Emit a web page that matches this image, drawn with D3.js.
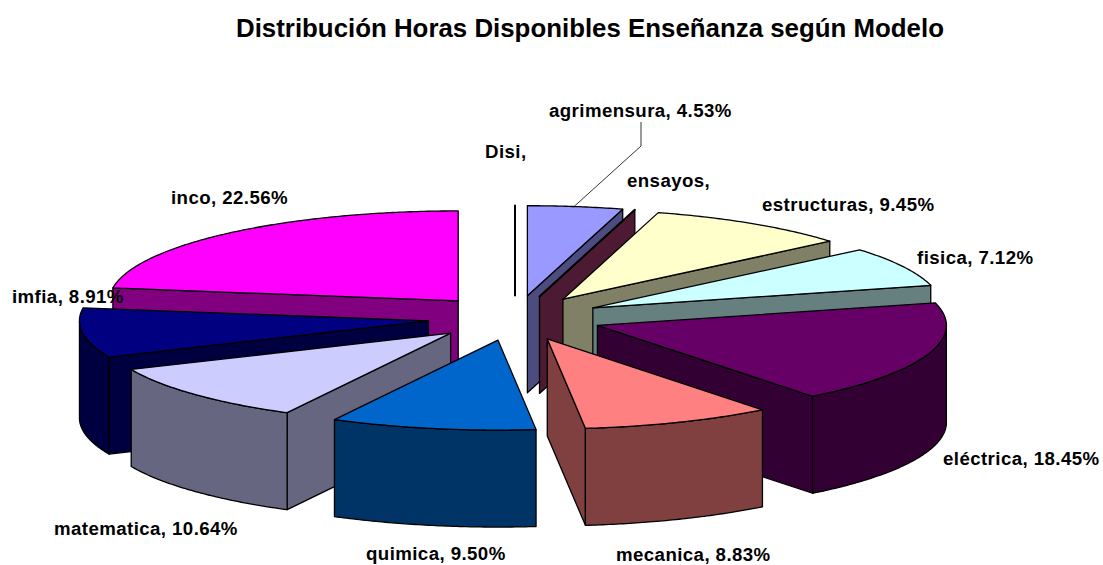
<!DOCTYPE html>
<html>
<head>
<meta charset="utf-8">
<script src="https://cdn.jsdelivr.net/npm/d3@7/dist/d3.min.js"></script>
<style>
html,body{margin:0;padding:0;background:#fff;}
text{font-family:"Liberation Sans",Arial,sans-serif;font-weight:bold;fill:#000;}
</style>
</head>
<body>
<svg id="chart" width="1103" height="565"></svg>
<script>
const titleText = "Distribución Horas Disponibles Enseñanza según Modelo";
const categories = ["agrimensura","ensayos","estructuras","fisica","eléctrica","mecanica","quimica","matematica","imfia","inco","Disi"];
const values = [4.53,0,9.45,7.12,18.45,8.83,9.50,10.64,8.91,22.56,0];
const valueLabels = ["4.53%","","9.45%","7.12%","18.45%","8.83%","9.50%","10.64%","8.91%","22.56%",""];
const topColors = ["#9999ff","#993366","#ffffcc","#ccffff","#660066","#ff8080","#0066cc","#ccccff","#000080","#ff00ff","#000000"];
const wallColors = ["#4c4c80","#4d1a33","#808066","#668080","#330033","#804040","#003366","#666680","#000040","#800080","#000000"];
const labelX = [549,627,762,917,943,616,366,54,12,171,485];
const labelY = [117,187,211,264,465,560.5,560,535,303,204,158];

const W = 1103, H = 565;
const cx = 515, cy = 318, rx = 349, ry = 90, depth = 97, explode = 0.25, viewTurn = 0.008;
const x = d3.scaleLinear().domain([-1,1]).range([cx-rx,cx+rx]);
const y = d3.scaleLinear().domain([-1,1]).range([cy-ry,cy+ry]);
const line = d3.line().x(d=>x(d[0])).y(d=>y(d[1])+(d[2]||0));
const svg = d3.select("#chart");

const pie = d3.pie().sort(null).value(d=>d.value);
const arcs = pie(categories.map((c,i)=>({c,i,value:values[i]})));

const slices = arcs.map(a=>{
  const mid=(a.startAngle+a.endAngle)/2;
  return {...a, i:a.data.i, mid, ox:Math.sin(mid)*explode, oy:-Math.cos(mid)*explode};
});
const turned=t=>(t<1e-6||t>2*Math.PI-1e-6)?t:t-viewTurn;
const rim=(s,t)=>[s.ox+Math.sin(turned(t)),s.oy-Math.cos(turned(t))];
const apex=s=>[s.ox,s.oy];
const samples=(a,b)=>{
  const n=Math.max(1,Math.ceil((b-a)/0.01));
  return d3.range(n+1).map(k=>a+(b-a)*k/n);
};
const cutFace=(s,t)=>{
  const A=apex(s),R=rim(s,t);
  return line([[A[0],A[1],0],[R[0],R[1],0],[R[0],R[1],depth],[A[0],A[1],depth]])+"Z";
};
const order=slices.slice().sort((p,q)=>Math.cos(q.mid)-Math.cos(p.mid));
const styleIt=(sel,fill,w)=>sel.attr("fill",fill).attr("stroke","#000").attr("stroke-width",w||1.3).attr("stroke-linejoin","round");

const g=svg.append("g");
order.forEach(s=>{
  const a=s.startAngle,b=s.endAngle,wc=wallColors[s.i];
  if(Math.sin(a)<-1e-6) styleIt(g.append("path").attr("d",cutFace(s,a)),wc);
  if(Math.sin(b)>1e-6) styleIt(g.append("path").attr("d",cutFace(s,b)),wc);
  const lo=Math.max(a,Math.PI/2),hi=Math.min(b,3*Math.PI/2);
  if(hi>lo){
    const ts=samples(lo,hi);
    const front=ts.map(t=>[...rim(s,t),0]);
    const back=ts.slice().reverse().map(t=>[...rim(s,t),depth]);
    styleIt(g.append("path").attr("d",line(front.concat(back))+"Z"),wc);
  }
  const top=[[...apex(s),0]].concat(samples(a,b).map(t=>[...rim(s,t),0]));
  styleIt(g.append("path").attr("d",line(top)+"Z"),topColors[s.i],s.value===0?2:1.3);
});

// leader line for agrimensura
const ag=slices[0];
const lr=rim(ag,ag.mid);
svg.append("path")
  .attr("d",`M641,122L641,146L${x(lr[0]).toFixed(1)},${y(lr[1]).toFixed(1)}`)
  .attr("fill","none").attr("stroke","#000").attr("stroke-width",0.8);

svg.append("text").attr("x",590).attr("y",37).attr("text-anchor","middle")
  .attr("font-size",25.85).text(titleText);

svg.selectAll("text.lab").data(categories).join("text").attr("class","lab")
  .attr("x",(d,i)=>labelX[i]).attr("y",(d,i)=>labelY[i]).attr("font-size",18.67)
  .attr("letter-spacing",0.42)
  .text((d,i)=>d+", "+valueLabels[i]);
</script>
</body>
</html>
